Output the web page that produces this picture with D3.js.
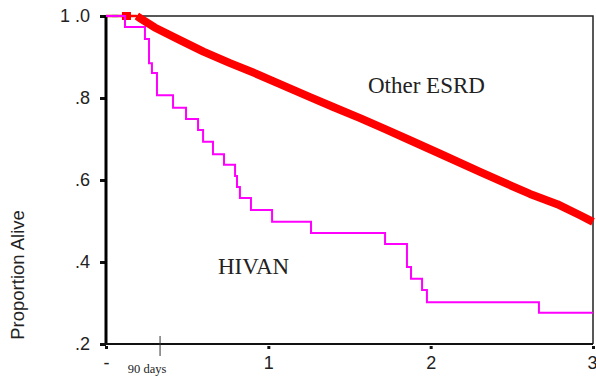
<!DOCTYPE html>
<html>
<head>
<meta charset="utf-8">
<script src="https://cdn.jsdelivr.net/npm/d3@7"></script>
<style>
  body { margin: 0; background: #fff; }
  .axis text { font-family: Arial, "Liberation Sans", sans-serif; font-size: 18px; fill: #222; }
  .lbl { font-family: "Times New Roman", "Liberation Serif", serif; fill: #222; }
</style>
</head>
<body>
<div id="chart"></div>
<script>
// Kaplan-Meier survival, years since start of dialysis
var hivanTime = [0, 0.117, 0.240, 0.265, 0.283, 0.314, 0.413, 0.493, 0.567, 0.598, 0.659, 0.727, 0.795, 0.807, 0.825, 0.893, 1.023, 1.263, 1.719, 1.854, 1.879, 1.947, 1.977, 2.667, 3.0];
var hivanSurv = [1.0, 0.973, 0.944, 0.885, 0.861, 0.807, 0.776, 0.749, 0.722, 0.693, 0.663, 0.637, 0.610, 0.583, 0.556, 0.527, 0.498, 0.471, 0.444, 0.388, 0.359, 0.332, 0.302, 0.276, 0.276];

var otherTime = [0.19, 0.209, 0.30, 0.456, 0.60, 0.764, 0.92, 1.072, 1.257, 1.40, 1.565, 1.72, 1.873, 2.058, 2.304, 2.45, 2.612, 2.78, 2.920, 3.0];
var otherSurv = [1.0, 0.995, 0.972, 0.941, 0.913, 0.885, 0.860, 0.834, 0.802, 0.778, 0.751, 0.724, 0.697, 0.664, 0.620, 0.594, 0.566, 0.541, 0.514, 0.498];

var yTicks = [1.0, 0.8, 0.6, 0.4, 0.2];
var yTickLabels = ["1 .0", ".8", ".6", ".4", ".2"];
var xTicks = [0, 1, 2, 3];
var xTickLabels = ["-", "1", "2", "3"];
var ninetyDays = 0.333; // where the "90 days" marker sits on the axis

var width = 596, height = 377;
var margin = {top: 16, right: 3, bottom: 33, left: 106};

var svg = d3.select("#chart").append("svg")
    .attr("width", width)
    .attr("height", height);

var x = d3.scaleLinear().domain([0, 3]).range([margin.left, width - margin.right]);
var y = d3.scaleLinear().domain([0.2, 1.0]).range([height - margin.bottom, margin.top]);

// frame top + right
svg.append("path")
    .attr("d", "M" + x(0) + "," + y(1) + "H" + x(3) + "V" + y(0.2))
    .attr("fill", "none").attr("stroke", "#222").attr("stroke-width", 1.5);

// y axis
var yAxis = svg.append("g")
    .attr("class", "axis")
    .attr("transform", "translate(" + x(0) + ",0)")
    .call(d3.axisLeft(y).tickValues(yTicks).tickSize(6).tickPadding(10)
      .tickFormat(function(d, i){ return yTickLabels[i]; }));
yAxis.select(".domain").remove();
yAxis.selectAll(".tick line").attr("stroke", "#111").attr("stroke-width", 3);

// x axis
var xAxis = svg.append("g")
    .attr("class", "axis")
    .attr("transform", "translate(0," + y(0.2) + ")")
    .call(d3.axisBottom(x).tickValues(xTicks).tickSize(5).tickPadding(7)
      .tickFormat(function(d, i){ return xTickLabels[i]; }));
xAxis.select(".domain").remove();
xAxis.selectAll(".tick line").attr("stroke", "#111").attr("stroke-width", 3).attr("y1", 2);
xAxis.selectAll(".tick text").filter(function(d){ return d === 3; })
    .attr("text-anchor", "end").attr("x", 4);

// axis lines drawn solid black
svg.append("line")
    .attr("x1", x(0)).attr("x2", x(0))
    .attr("y1", y(1) - 1).attr("y2", y(0.2) + 1)
    .attr("stroke", "#000").attr("stroke-width", 3);
svg.append("line")
    .attr("x1", x(0) - 2).attr("x2", x(3))
    .attr("y1", y(0.2)).attr("y2", y(0.2))
    .attr("stroke", "#111").attr("stroke-width", 2);

// 90 days marker
svg.append("line")
    .attr("x1", x(ninetyDays)).attr("x2", x(ninetyDays))
    .attr("y1", y(0.2) - 8).attr("y2", y(0.2) + 12)
    .attr("stroke", "#333").attr("stroke-width", 1);
svg.append("text")
    .attr("class", "lbl")
    .attr("x", x(ninetyDays) - 13).attr("y", 373)
    .attr("text-anchor", "middle")
    .style("font-size", "12.5px")
    .text("90 days");

// other ESRD: thin start then thick band
svg.append("line")
    .attr("x1", x(0)).attr("x2", x(0.19))
    .attr("y1", y(1)).attr("y2", y(1))
    .attr("stroke", "#f00").attr("stroke-width", 2.5);
svg.append("line")
    .attr("x1", x(0.037)).attr("x2", x(0.074))
    .attr("y1", y(1)).attr("y2", y(1))
    .attr("stroke", "#5c5").attr("stroke-width", 2.5);
svg.append("rect")
    .attr("x", x(0.123) - 4).attr("y", y(1) - 4)
    .attr("width", 9).attr("height", 8)
    .attr("fill", "#f00");

var line = d3.line()
    .x(function(d){ return x(d[0]); })
    .y(function(d){ return y(d[1]); });

// HIVAN step curve
var lineStep = d3.line()
    .x(function(d){ return x(d[0]); })
    .y(function(d){ return y(d[1]); })
    .curve(d3.curveStepAfter);

svg.append("path")
    .datum(hivanTime.map(function(t, i){ return [t, hivanSurv[i]]; }))
    .attr("d", lineStep)
    .attr("fill", "none")
    .attr("stroke", "#f0f")
    .attr("stroke-width", 2);

svg.append("path")
    .datum(otherTime.map(function(t, i){ return [t, otherSurv[i]]; }))
    .attr("d", line)
    .attr("fill", "none")
    .attr("stroke", "#f00")
    .attr("stroke-width", 8)
    .attr("stroke-linejoin", "round");

// curve labels
svg.append("text").attr("class", "lbl")
    .attr("x", 368).attr("y", 93)
    .style("font-size", "23px")
    .text("Other ESRD");
svg.append("text").attr("class", "lbl")
    .attr("x", 218).attr("y", 274)
    .style("font-size", "23px")
    .text("HIVAN");

// y title
svg.append("text")
    .attr("transform", "translate(24,275) rotate(-90)")
    .attr("text-anchor", "middle")
    .style("font-family", "Arial, 'Liberation Sans', sans-serif")
    .style("font-size", "18.5px")
    .style("fill", "#222")
    .text("Proportion Alive");
</script>
</body>
</html>
